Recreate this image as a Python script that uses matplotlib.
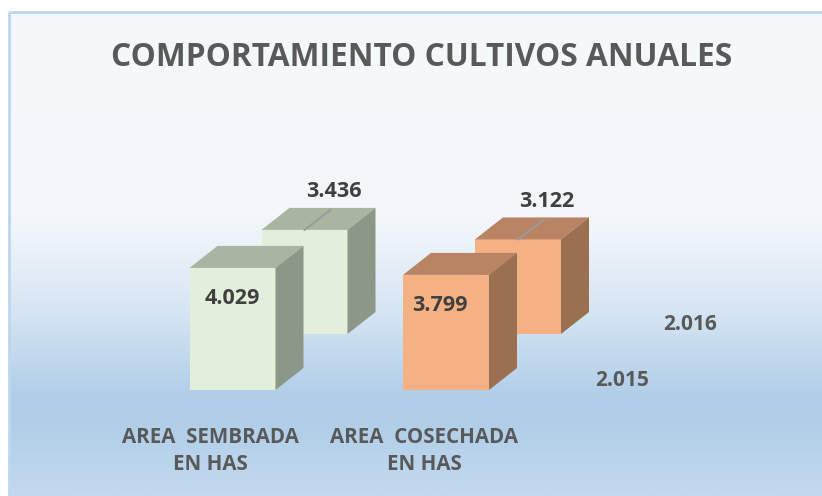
import matplotlib
matplotlib.use('Agg')
import matplotlib.pyplot as plt
from matplotlib.patches import Polygon, Rectangle
from matplotlib.colors import LinearSegmentedColormap
import numpy as np

# data
categories = ['AREA  SEMBRADA\nEN HAS', 'AREA  COSECHADA\nEN HAS']
series = ['2.015', '2.016']
values_2015 = [4.029, 3.799]
values_2016 = [3.436, 3.122]
labels_2015 = ['4.029', '3.799']
labels_2016 = ['3.436', '3.122']

W, H = 822, 496
fig = plt.figure(figsize=(W / 100, H / 100), dpi=100)

# background: white outside, gradient panel with light blue border
bg = fig.add_axes([0, 0, 1, 1], zorder=0)
bg.set_xlim(0, W)
bg.set_ylim(H, 0)
bg.axis('off')
grad = LinearSegmentedColormap.from_list('bg', [
    (0.0, '#F5F9FC'), (0.43, '#F3F7FB'), (0.62, '#D6E5F3'),
    (0.80, '#AFCDE8'), (0.86, '#B2CFE9'), (1.0, '#C2D9EE')])
g = np.linspace(0, 1, 256).reshape(-1, 1)
bg.imshow(g, cmap=grad, aspect='auto', extent=(9, W + 5, H, 12), zorder=0)
bg.add_patch(Rectangle((9, 12), W, H, fill=False, ec='#BDD7EE', lw=2, zorder=1))

# main axes: pixel -> data scaling
px_x = 213.5   # px per category
px_y = 30.3    # px per unit
left_px, base_px = 19, 390
ax = fig.add_axes([left_px / W, (H - base_px) / H, 3.5 * px_x / W, 8 * px_y / H], zorder=2)
ax.set_xlim(-1, 2.5)
ax.set_ylim(0, 8)
ax.axis('off')

bw = 86 / px_x
ddx, ddy = 28 / px_x, 22 / px_y          # bar depth
rdx, rdy = 72 / px_x, 56 / px_y          # shift of back row

green = ('#E2EFDA', '#A9B5A0', '#8C9787')
orange = ('#F4B183', '#B98463', '#9A7050')
colors = [green, orange]


def box(x, h, dx, dy, cols, z):
    x0, x1 = x - bw / 2 + dx, x + bw / 2 + dx
    y0, y1 = dy, h + dy
    ax.bar(x + dx, h, width=bw, bottom=dy, color=cols[0], edgecolor='none', zorder=z)
    ax.add_patch(Polygon([(x0, y1), (x0 + ddx, y1 + ddy), (x1 + ddx, y1 + ddy), (x1, y1)],
                         closed=True, fc=cols[1], ec='none', zorder=z))
    ax.add_patch(Polygon([(x1, y0), (x1, y1), (x1 + ddx, y1 + ddy), (x1 + ddx, y0 + ddy)],
                         closed=True, fc=cols[2], ec='none', zorder=z))


txt = '#404040'
lab = '#595959'
for i, v in enumerate(values_2016):
    box(i, v, rdx, rdy, colors[i], 3)
    cx, top = i + rdx, v + rdy
    ax.plot([cx, cx + 26 / px_x], [top, top + 20 / px_y], color='#9A9A9A', lw=1.4, zorder=4)
    ax.text(cx + 29 / px_x, top + 38 / px_y, labels_2016[i], ha='center', va='center',
            fontsize=15.5, fontweight='bold', color=txt, family='Open Sans', zorder=5)

front_off = [0, -6]
for i, v in enumerate(values_2015):
    box(i, v, 0, 0, colors[i], 6)
    ax.text(i + front_off[i] / px_x, v - 31 / px_y, labels_2015[i], ha='center', va='center',
            fontsize=15.5, fontweight='bold', color=txt, family='Open Sans', zorder=7)

# depth axis labels
sx, sy = (622 - 232.5) / px_x, 10 / px_y
for k, s in enumerate(series):
    ax.text(sx + k * rdx * 0.95, sy + k * rdy, s, ha='center', va='center',
            fontsize=15, fontweight='bold', color=lab, family='Open Sans', zorder=5)

# category labels
for i, c in enumerate(categories):
    ax.text(i - 22 / px_x, -61 / px_y, c, ha='center', va='center', linespacing=1.4,
            fontsize=14.8, fontweight='bold', color=lab, family='Open Sans', zorder=5)

fig.text(422 / W, 1 - 57 / H, 'COMPORTAMIENTO CULTIVOS ANUALES', ha='center', va='center',
         fontsize=22.8, fontweight='bold', color=lab, family='Open Sans', zorder=5)

fig.savefig('out.png', dpi=100)
